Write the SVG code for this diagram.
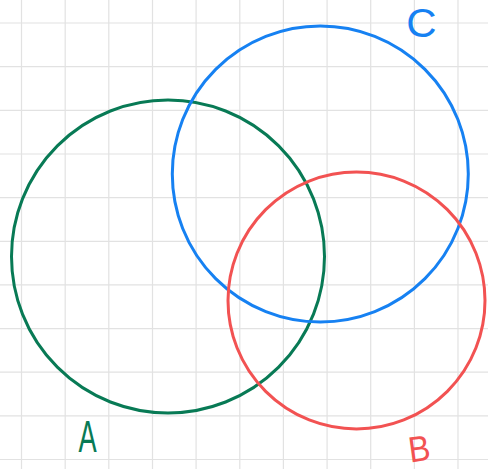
<svg xmlns="http://www.w3.org/2000/svg" width="488" height="469" viewBox="0 0 488 469">
<style>
.grid line{stroke:#e2e2e2;stroke-width:1.2}
.c{fill:none;stroke-width:3}
.lbl{font-family:"Liberation Sans",Arial,sans-serif;text-anchor:middle;font-weight:normal}
</style>
<rect width="488" height="469" fill="#ffffff"/>
<g class="grid">
<line x1="21.5" y1="0" x2="21.5" y2="469"/>
<line x1="65.2" y1="0" x2="65.2" y2="469"/>
<line x1="108.8" y1="0" x2="108.8" y2="469"/>
<line x1="152.5" y1="0" x2="152.5" y2="469"/>
<line x1="196.1" y1="0" x2="196.1" y2="469"/>
<line x1="239.8" y1="0" x2="239.8" y2="469"/>
<line x1="283.4" y1="0" x2="283.4" y2="469"/>
<line x1="327.1" y1="0" x2="327.1" y2="469"/>
<line x1="370.7" y1="0" x2="370.7" y2="469"/>
<line x1="414.4" y1="0" x2="414.4" y2="469"/>
<line x1="458" y1="0" x2="458" y2="469"/>
<line x1="0" y1="23" x2="488" y2="23"/>
<line x1="0" y1="66.7" x2="488" y2="66.7"/>
<line x1="0" y1="110.3" x2="488" y2="110.3"/>
<line x1="0" y1="154" x2="488" y2="154"/>
<line x1="0" y1="197.6" x2="488" y2="197.6"/>
<line x1="0" y1="241.3" x2="488" y2="241.3"/>
<line x1="0" y1="284.9" x2="488" y2="284.9"/>
<line x1="0" y1="328.6" x2="488" y2="328.6"/>
<line x1="0" y1="372.2" x2="488" y2="372.2"/>
<line x1="0" y1="415.9" x2="488" y2="415.9"/>
<line x1="0" y1="459.5" x2="488" y2="459.5"/>
</g>
<g id="A">
<circle class="c" cx="168" cy="256.5" r="156.5" stroke="#087a55"/>
<text class="lbl" x="0" y="0" font-size="44" fill="#087a55" transform="translate(87.5,452) scale(0.62,1)">A</text>
</g>
<g id="C">
<circle class="c" cx="320.3" cy="174" r="148" stroke="#1681f2"/>
<text class="lbl" x="0" y="0" font-size="40" fill="#1681f2" transform="translate(421.5,37) scale(1.05,1)">C</text>
</g>
<g id="B">
<circle class="c" cx="356.5" cy="300.5" r="128.5" stroke="#f25252"/>
<text class="lbl" x="0" y="0" font-size="36" fill="#f25252" transform="translate(421,461) rotate(-8) scale(0.9,1)">B</text>
</g>
</svg>
